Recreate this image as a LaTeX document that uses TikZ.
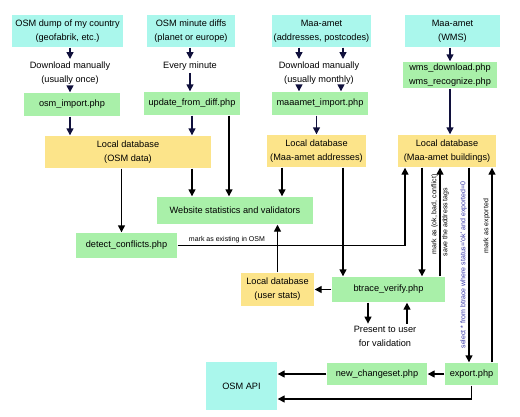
\documentclass[tikz,border=0pt]{standalone}
\usepackage{fontspec}
\setmainfont{Liberation Sans}
\usetikzlibrary{arrows.meta}

\definecolor{srccol}{HTML}{AAF7EC}
\definecolor{phpcol}{HTML}{A9F0A9}
\definecolor{dbcol}{HTML}{FCE48A}
\definecolor{navy}{HTML}{10103C}
\definecolor{sqlcol}{HTML}{3838A8}

\tikzset{
  src/.style={fill=srccol, align=center, inner sep=0pt},
  php/.style={fill=phpcol, align=center, inner sep=0pt},
  db/.style={fill=dbcol, align=center, inner sep=0pt},
  txt/.style={align=center, inner sep=2pt},
  lbl/.style={font=\fontsize{7}{8}\selectfont, inner sep=1.5pt},
}

\begin{document}
\begin{tikzpicture}[x=1pt, y=-1pt, font=\fontsize{9.2}{14}\selectfont,
    line width=1.4pt, >={Triangle[length=7pt,width=7pt]}]
        \useasboundingbox (0,0) rectangle (520,416);
        % sources
        \node[src, minimum width=111, minimum height=32] (dump) at (67.5,31) {OSM dump of my country\\(geofabrik, etc.)};
        \node[txt] (dl1) at (70,73) {Download manually\\(usually once)};
        \node[php, minimum width=96, minimum height=23] (osmimp) at (72,104.5) {osm\_import.php};
        \node[src, minimum width=88, minimum height=32] (diffs) at (191,31) {OSM minute diffs\\(planet or europe)};
        \node[txt] (every) at (190,66) {Every minute};
        \node[php, minimum width=96, minimum height=23] (upd) at (192,103.5) {update\_from\_diff.php};
        \node[src, minimum width=99, minimum height=32] (addr) at (321.5,31) {Maa-amet\\(addresses, postcodes)};
        \node[txt] (dl2) at (319,73) {Download manually\\(usually monthly)};
        \node[php, minimum width=96, minimum height=23] (maaimp) at (320,103.5) {maaamet\_import.php};
        \node[src, minimum width=95, minimum height=32] (wms) at (452.5,31) {Maa-amet\\(WMS)};
        \node[php, minimum width=94, minimum height=26] (wmsphp) at (450,75) {wms\_download.php\\wms\_recognize.php};
        % databases and tools
        \node[db, minimum width=166, minimum height=32] (osmdb) at (128,152) {Local database\\(OSM data)};
        \node[db, minimum width=99, minimum height=32] (addrdb) at (316.5,151) {Local database\\(Maa-amet addresses)};
        \node[db, minimum width=98, minimum height=32] (blddb) at (447,151) {Local database\\(Maa-amet buildings)};
        \node[php, minimum width=156, minimum height=27] (web) at (235,210.5) {Website statistics and validators};
        \node[php, minimum width=101, minimum height=25] (detect) at (126.5,245.5) {detect\_conflicts.php};
        \node[db, minimum width=73, minimum height=33] (userdb) at (277.5,289.5) {Local database\\(user stats)};
        \node[php, minimum width=113, minimum height=25] (btrace) at (388.5,289.5) {btrace\_verify.php};
        \node[txt] (present) at (385,336.5) {Present to user\\for validation};
        \node[src, minimum width=71, minimum height=48] (api) at (241.5,386) {OSM API};
        \node[php, minimum width=100, minimum height=22] (newcs) at (377,374) {new\_changeset.php};
        \node[php, minimum width=53, minimum height=22] (export) at (471.5,374) {export.php};
        % imports
        \draw[->, navy] (dump.south -| dl1) -- (dl1.north);
        \draw[->, navy] (dl1.south) -- (dl1.south |- osmimp.north);
        \draw[->, navy] (osmimp.south -| dl1) -- (dl1 |- osmdb.north);
        \draw[->, navy] (diffs.south -| every) -- (every.north);
        \draw[->, navy] (every.south) -- (every.south |- upd.north);
        \draw[->, navy] (upd.south) -- (upd.south |- osmdb.north);
        \draw[->, navy] ([xshift=-20]dl2.north |- addr.south) -- ([xshift=-20]dl2.north);
        \draw[->, navy] ([xshift=24]dl2.north |- addr.south) -- ([xshift=24]dl2.north);
        \draw[->, navy] ([xshift=-20]dl2.south) -- ([xshift=-20]dl2.south |- maaimp.north);
        \draw[->, navy] ([xshift=22]dl2.south) -- ([xshift=22]dl2.south |- maaimp.north);
        \draw[->, navy] (maaimp.south -| addrdb) -- (addrdb.north);
        \draw[->, navy] (wms.south -| wmsphp) -- (wmsphp.north);
        \draw[->, navy] (wmsphp.south) -- (wmsphp.south |- blddb.north);
        % databases to tools
        \draw[->] (osmdb.south -| upd) -- (upd |- web.north);
        \draw[->] ([xshift=37]upd.south) -- ([xshift=37]upd.south |- web.north);
        \draw[->] ([xshift=-34.5]addrdb.south) -- ([xshift=-34.5]addrdb.south |- web.north);
        \draw[->] ([xshift=-5]detect.north |- osmdb.south) -- ([xshift=-5]detect.north);
        \draw[->] ([xshift=26.5]addrdb.south) -- ([xshift=26.5]addrdb.south |- btrace.north);
        \draw[->] (detect.east) -| ([xshift=-42]blddb.south)
          node[lbl, pos=0.02, anchor=south west] {mark as existing in OSM};
        % buildings
        \draw[->] ([xshift=-25]blddb.south) -- ([xshift=-25]blddb.south |- btrace.north);
        \draw[->] ([xshift=-7]blddb.south |- btrace.north) -- ([xshift=-7]blddb.south)
          node[lbl, pos=0.57, rotate=90, anchor=south] {mark as (ok, bad, conflict)}
          node[lbl, midway, rotate=90, anchor=north] {save the address tags};
        \draw[->] ([xshift=22]blddb.south) -- ([xshift=22]blddb.south |- export.north)
          node[lbl, midway, rotate=90, anchor=south, text=sqlcol] {select * from btrace where status=\textquotesingle ok\textquotesingle{} and exported=0};
        \draw[->] ([xshift=45]blddb.south |- export.north) -- ([xshift=45]blddb.south)
          node[lbl, pos=0.7, rotate=90, anchor=south] {mark as exported};
        % btrace and user stats
        \draw[->] (btrace.west) -- (userdb.east);
        \draw[->] (userdb.north) -- (userdb.north |- web.south);
        \draw[->] ([xshift=-20.5]btrace.south) -- ([xshift=-20.5]btrace.south |- present.north);
        \draw[->] ([xshift=18.5]btrace.south |- present.north) -- ([xshift=18.5]btrace.south);
        % export
        \draw[->] (export.west) -- (newcs.east);
        \draw[->] (newcs.west) -- (newcs.west -| api.east);
        \draw[->] (export.south) |- ([yshift=-13]api.east);
\end{tikzpicture}
\end{document}
